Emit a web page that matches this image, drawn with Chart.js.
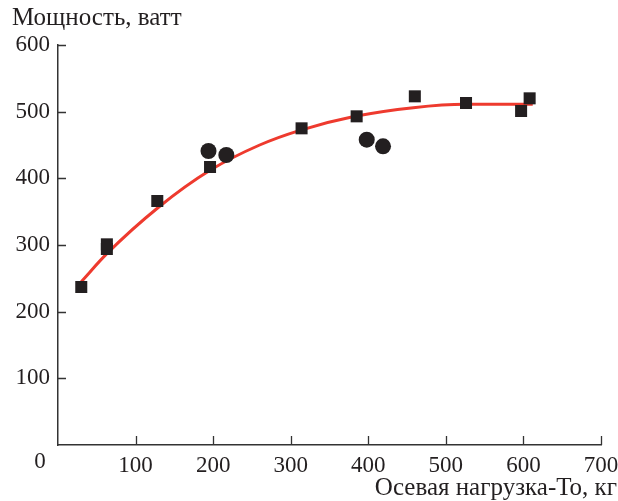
<!DOCTYPE html>
<html><head><meta charset="utf-8">
<script src="https://cdn.jsdelivr.net/npm/chart.js@4"></script>
<style>html,body{margin:0;padding:0;background:#fff}#wrap{width:618px;height:501px}</style>
</head><body><div id="wrap"><canvas id="c" width="618" height="501"></canvas></div>
<script>
const yTitle = "Мощность, ватт";
const xTitle = "Осевая нагрузка-То, кг";
const xTicks = [0,100,200,300,400,500,600,700];
const yTicks = [0,100,200,300,400,500,600];
// squares (experimental points)
const squareX = [30, 63, 63, 128, 196, 314, 385, 460, 526, 597, 608];
const squareY = [237, 301, 294, 366, 417, 475, 493, 523, 513, 501, 520];
// circles
const circleX = [194, 217, 398, 419];
const circleY = [441, 435, 458, 448];
// fitted curve
const curveX = [30, 63, 130, 196, 260, 312, 383, 458, 525, 612];
const curveY = [245, 287, 357, 412, 450, 472, 493, 506, 511, 511];

const FONT = "'Liberation Serif', 'Times New Roman', serif";
const ink = '#231f20';

const textPlugin = {
  id: 'texts',
  afterDraw(chart) {
    const {ctx, chartArea} = chart;
    const xs = chart.scales.x, ys = chart.scales.y;
    ctx.save();
    ctx.strokeStyle = '#333';
    ctx.lineWidth = 1.3;
    ctx.beginPath();
    xTicks.forEach(v => { if (v === 0) return; const px = Math.round(xs.getPixelForValue(v)) + 0.5; ctx.moveTo(px, chartArea.bottom); ctx.lineTo(px, chartArea.bottom - 9); });
    yTicks.forEach(v => { if (v === 0) return; const py = Math.round(ys.getPixelForValue(v)) + 0.5; ctx.moveTo(chartArea.left, py); ctx.lineTo(chartArea.left + 8, py); });
    ctx.stroke();
    ctx.fillStyle = ink;
    ctx.font = "25px " + FONT;
    ctx.textBaseline = 'middle';
    ctx.textAlign = 'left';
    ctx.fillText(yTitle, 12, 18);
    ctx.textAlign = 'right';
    ctx.fillText(xTitle, 617, 488);
    ctx.font = "23px " + FONT;
    ctx.textAlign = 'center';
    ctx.fillText('0', chartArea.left - 18, chartArea.bottom + 17);
    ctx.restore();
  }
};

new Chart(document.getElementById('c'), {
  data: {
    datasets: [
      {
        type: 'line', order: 3,
        data: curveX.map((x,i)=>({x, y: curveY[i]})),
        borderColor: '#ee3a2e', borderWidth: 3, pointRadius: 0,
        cubicInterpolationMode: 'monotone', fill: false
      },
      {
        type: 'scatter', order: 1,
        data: squareX.map((x,i)=>({x, y: squareY[i]})),
        pointStyle: 'rect', pointRadius: 8.5, backgroundColor: ink, borderColor: ink, borderWidth: 0
      },
      {
        type: 'scatter', order: 2,
        data: circleX.map((x,i)=>({x, y: circleY[i]})),
        pointStyle: 'circle', pointRadius: 8, backgroundColor: ink, borderColor: ink, borderWidth: 0
      }
    ]
  },
  options: {
    responsive: false, animation: false,
    layout: { padding: { left: 0, top: 45, right: 17, bottom: 0 } },
    plugins: { legend: { display: false }, tooltip: { enabled: false } },
    scales: {
      x: {
        type: 'linear', min: 0, max: 700,
        afterBuildTicks: s => { s.ticks = xTicks.map(v => ({value: v})); },
        afterFit: s => { s.height = 56; s.paddingLeft = 0; s.paddingRight = 0; },
        grid: { display: false, drawTicks: false },
        border: { display: true, color: '#333', width: 1.5 },
        ticks: { color: ink, padding: 7, font: { family: FONT, size: 23 }, maxRotation: 0, autoSkip: false,
          callback: v => v === 0 ? '' : String(v) }
      },
      y: {
        type: 'linear', min: 0, max: 600,
        afterBuildTicks: s => { s.ticks = yTicks.map(v => ({value: v})); },
        afterFit: s => { s.width = 58; s.paddingTop = 0; s.paddingBottom = 0; },
        grid: { display: false, drawTicks: false },
        border: { display: true, color: '#333', width: 1.5 },
        ticks: { color: ink, padding: 8, font: { family: FONT, size: 23 }, autoSkip: false,
          callback: v => v === 0 ? '' : String(v) }
      }
    }
  },
  plugins: [textPlugin]
});
</script></body></html>
